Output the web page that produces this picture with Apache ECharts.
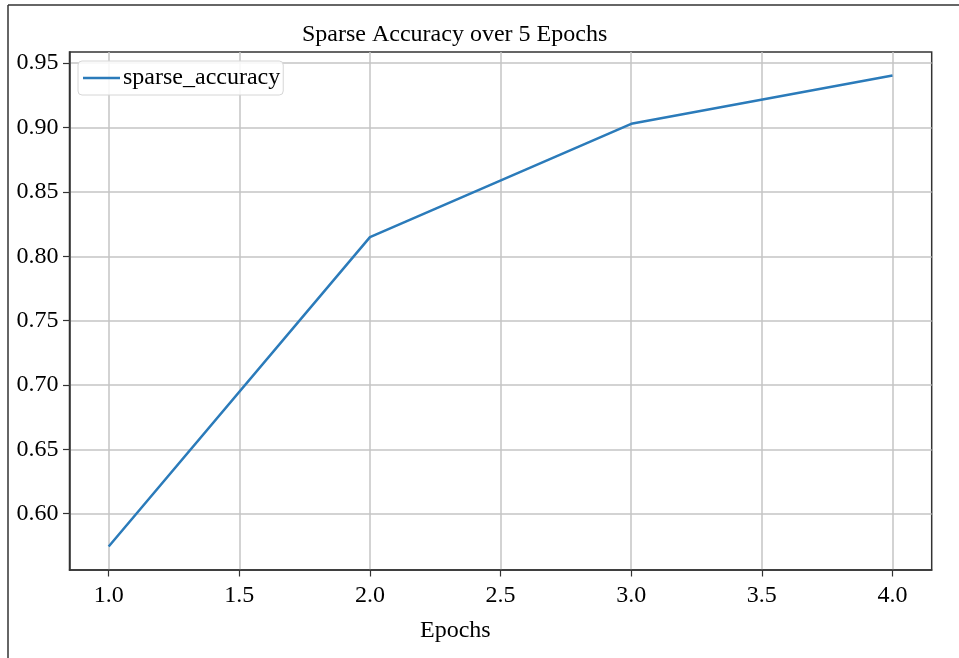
<!DOCTYPE html>
<html>
<head>
<meta charset="utf-8">
<script src="https://cdn.jsdelivr.net/npm/echarts@6/dist/echarts.min.js"></script>
<style>
  html, body { margin: 0; padding: 0; background: #fff; }
  #chart { width: 959px; height: 658px; }
</style>
</head>
<body>
<div id="chart"></div>
<script>
var epochs = [1, 2, 3, 4];
var sparseAccuracy = [0.5746, 0.8149, 0.9029, 0.9404];
var xTicks = [1.0, 1.5, 2.0, 2.5, 3.0, 3.5, 4.0];
var yTicks = [0.60, 0.65, 0.70, 0.75, 0.80, 0.85, 0.90, 0.95];

var font = "'Liberation Serif', 'DejaVu Serif', serif";
var lineColor = '#2b7bba';

var chart = echarts.init(document.getElementById('chart'));
chart.setOption({
  animation: false,
  backgroundColor: '#fff',
  title: [{
    text: 'Sparse Accuracy over 5 Epochs',
    left: 302, top: 23, padding: 0,
    textStyle: { fontFamily: font, fontSize: 24, fontWeight: 'normal', color: '#000' }
  }, {
    text: 'Epochs',
    left: 420, top: 619, padding: 0,
    textStyle: { fontFamily: font, fontSize: 24, fontWeight: 'normal', color: '#000' }
  }],
  legend: {
    left: 78, top: 61,
    padding: [5, 3, 5, 5],
    backgroundColor: 'rgba(255,255,255,0.85)',
    borderColor: '#d6d6d6', borderWidth: 1, borderRadius: 4,
    icon: 'rect', itemWidth: 37, itemHeight: 2.5,
    textStyle: { fontFamily: font, fontSize: 24, color: '#000', padding: [0, 0, 0, -2] },
    data: ['sparse_accuracy']
  },
  grid: { left: 69.5, right: 27.3, top: 52, bottom: 88, show: true,
          borderColor: '#333', borderWidth: 1.5, containLabel: false },
  xAxis: {
    type: 'value', min: 0.85, max: 4.15,
    axisLine: { show: true, onZero: false, lineStyle: { color: '#333', width: 1.5 } },
    axisTick: { show: true, inside: false, length: 6.5, customValues: xTicks,
                lineStyle: { color: '#333', width: 1.2 } },
    axisLabel: { customValues: xTicks, margin: 14, fontFamily: font, fontSize: 24, color: '#000',
                 formatter: function (v) { return v.toFixed(1); } },
    splitLine: { show: true, lineStyle: { color: '#c4c4c4', width: 1.5 } }
  },
  yAxis: {
    type: 'value', min: 0.5563, max: 0.9587,
    axisLine: { show: true, onZero: false, lineStyle: { color: '#333', width: 1.5 } },
    axisTick: { show: true, inside: false, length: 6.5, customValues: yTicks,
                lineStyle: { color: '#333', width: 1.2 } },
    axisLabel: { customValues: yTicks, margin: 11, fontFamily: font, fontSize: 24, color: '#000',
                 formatter: function (v) { return v.toFixed(2); } },
    splitLine: { show: true, lineStyle: { color: '#c4c4c4', width: 1.5 } }
  },
  graphic: [
    { type: 'line', shape: { x1: 8, y1: 5, x2: 8, y2: 658 }, style: { stroke: '#333', lineWidth: 1.5 } },
    { type: 'line', shape: { x1: 8, y1: 5, x2: 959, y2: 5 }, style: { stroke: '#333', lineWidth: 1.5 } }
  ],
  series: [{
    name: 'sparse_accuracy',
    type: 'line',
    showSymbol: false,
    color: lineColor,
    lineStyle: { width: 2.5, color: lineColor },
    data: epochs.map(function (e, i) { return [e, sparseAccuracy[i]]; })
  }]
});
</script>
</body>
</html>
